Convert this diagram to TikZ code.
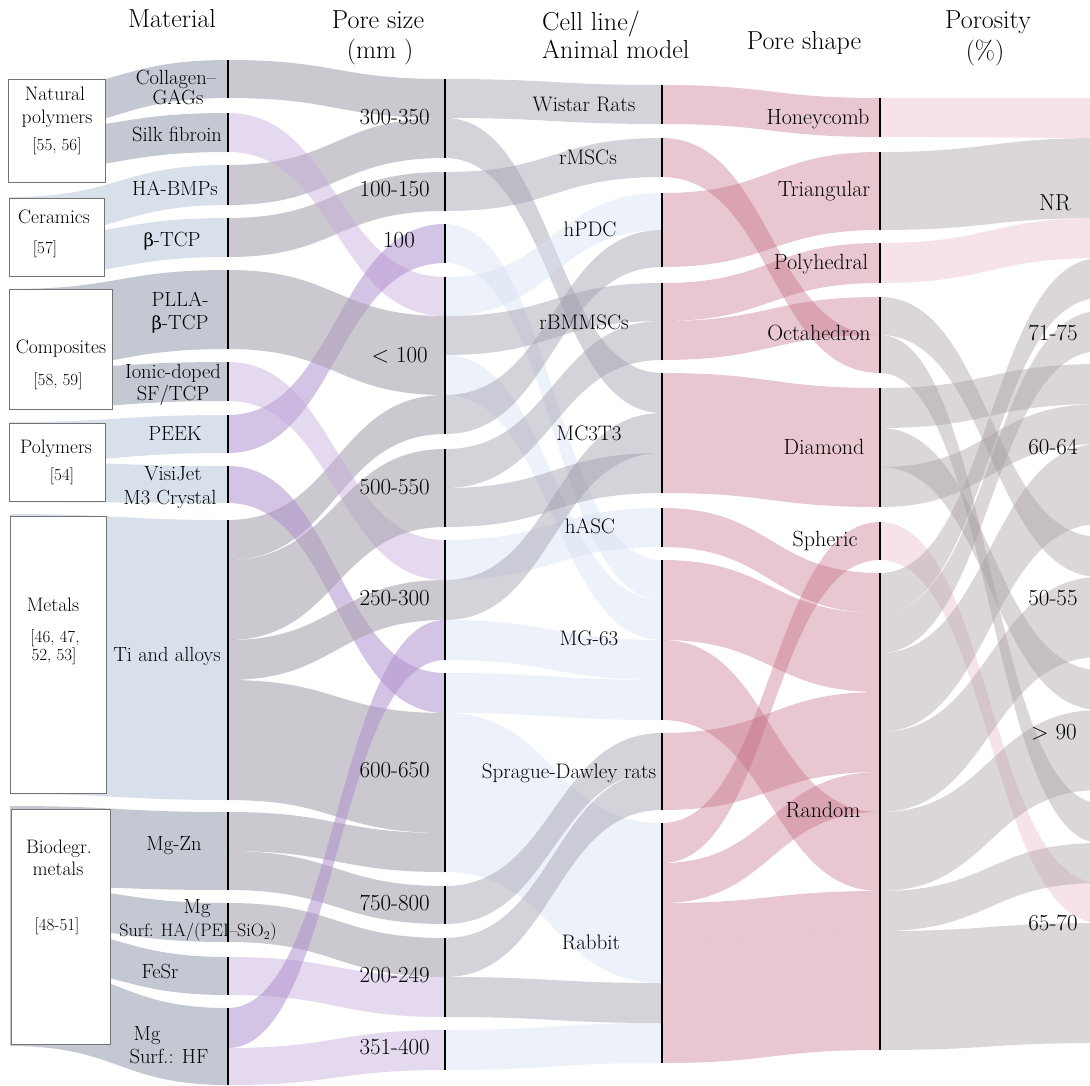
\documentclass[tikz,border=0pt]{standalone}
\usepackage{fontspec}
\newfontfamily\grk{DejaVu Serif}
\definecolor{gb}{RGB}{196,200,210}
\definecolor{lb}{RGB}{216,225,235}
\definecolor{agray}{RGB}{170,163,175}
\definecolor{apur}{RGB}{195,170,220}
\definecolor{apurm}{RGB}{175,145,205}
\definecolor{bgray}{RGB}{160,158,172}
\definecolor{bblue}{RGB}{215,225,242}
\definecolor{cred}{RGB}{190,95,120}
\definecolor{dgray}{RGB}{165,155,160}
\definecolor{dpink}{RGB}{228,175,190}
\newcommand{\ribbonx}[7]{\fill[#7] (#1,#2) .. controls ({(#1+#4)/2},#2) and ({(#1+#4)/2},#5) .. (#4,#5) -- (#4,#6) .. controls ({(#1+#4)/2},#6) and ({(#1+#4)/2},#3) .. (#1,#3) -- cycle;}
\newcommand{\bt}{{\grk\fontsize{18}{20}\selectfont β}}
\begin{document}
\begin{tikzpicture}[x=1pt,y=-1pt,
  rgb0/.style={fill=gb},
  rlb0/.style={fill=lb},
  ra/.style={fill=agray,fill opacity=0.6},
  rap/.style={fill=apur,fill opacity=0.45},
  rapm/.style={fill=apurm,fill opacity=0.55},
  rb/.style={fill=bgray,fill opacity=0.45},
  rbb/.style={fill=bblue,fill opacity=0.45},
  rc/.style={fill=cred,fill opacity=0.35},
  rd/.style={fill=dgray,fill opacity=0.4},
  rdp/.style={fill=dpink,fill opacity=0.35},
  bar/.style={line width=2.6pt,black},
  boxst/.style={draw=black!55,line width=0.8pt,fill=white,inner sep=0pt},
  hdr/.style={font=\fontsize{26}{30}\selectfont,anchor=base,inner sep=0pt},
  lab/.style={font=\fontsize{20.5}{24}\selectfont,anchor=base,yshift=-7pt,inner sep=0pt},
  clab/.style={font=\fontsize{21}{24}\selectfont,anchor=base,yshift=-7.2pt,inner sep=0pt},
  slab/.style={font=\fontsize{22}{25}\selectfont,anchor=base,yshift=-7.5pt,inner sep=0pt},
  num/.style={font=\fontsize{23}{26}\selectfont,anchor=base east,yshift=-7.4pt,inner sep=0pt},
  numc/.style={font=\fontsize{23}{26}\selectfont,anchor=base,yshift=-7.4pt,inner sep=0pt},
  blab/.style={font=\fontsize{19.5}{22}\selectfont,anchor=base,yshift=-6.7pt,inner sep=0pt},
  bref/.style={font=\fontsize{17}{20}\selectfont,anchor=base,yshift=-5.9pt,inner sep=0pt}]
\useasboundingbox (0,0) rectangle (1090,1085);
\clip (0,0) rectangle (1090,1085);
% ---------- boxes -> material
\ribbonx{10}{90.5}{130.5}{228}{60}{98}{rgb0}
\ribbonx{10}{130.5}{170.5}{228}{113}{152}{rgb0}
\ribbonx{10}{197}{237}{228}{165}{205}{rlb0}
\ribbonx{10}{237}{277}{228}{218}{257}{rlb0}
\ribbonx{10}{289}{369}{228}{270}{349}{rgb0}
\ribbonx{10}{369}{409}{228}{362}{401}{rgb0}
\ribbonx{10}{422}{462}{228}{415}{453}{rlb0}
\ribbonx{10}{462}{502}{228}{466}{503}{rlb0}
\ribbonx{10}{514}{794}{228}{520}{800}{rlb0}
\ribbonx{10}{806}{886}{228}{812}{890}{rgb0}
\ribbonx{10}{886}{926}{228}{903}{942}{rgb0}
\ribbonx{10}{926}{966}{228}{957}{995}{rgb0}
\ribbonx{10}{966}{1046}{228}{1008}{1085}{rgb0}
% ---------- material -> pore size
\ribbonx{228}{60}{98}{445}{79}{118}{ra}
\ribbonx{228}{165}{205}{445}{118}{158}{ra}
\ribbonx{228}{218}{257}{445}{172}{211}{ra}
\ribbonx{228}{113}{152}{445}{277}{316}{rap}
\ribbonx{228}{415}{453}{445}{224}{263}{rapm}
\ribbonx{228}{270}{349}{445}{316}{395}{ra}
\ribbonx{228}{520}{560}{445}{395}{434}{ra}
\ribbonx{228}{362}{401}{445}{540}{580}{rap}
\ribbonx{228}{466}{503}{445}{673}{713}{rapm}
\ribbonx{228}{560}{640}{445}{449}{527}{ra}
\ribbonx{228}{640}{680}{445}{580}{620}{ra}
\ribbonx{228}{680}{800}{445}{713}{833}{ra}
\ribbonx{228}{812}{851}{445}{833}{872}{ra}
\ribbonx{228}{851}{890}{445}{886}{924}{ra}
\ribbonx{228}{903}{942}{445}{938}{977}{ra}
\ribbonx{228}{957}{995}{445}{977}{1017}{rap}
\ribbonx{228}{1008}{1048}{445}{620}{660}{rapm}
\ribbonx{228}{1048}{1085}{445}{1030}{1070}{rap}
% ---------- pore size -> cell line
\ribbonx{445}{79}{118}{662}{85}{124}{rb}
\ribbonx{445}{118}{158}{662}{373}{413}{rb}
\ribbonx{445}{172}{211}{662}{138}{177}{rb}
\ribbonx{445}{224}{263}{662}{560}{600}{rbb}
\ribbonx{445}{277}{316}{662}{193}{230}{rbb}
\ribbonx{445}{316}{355}{662}{283}{321}{rb}
\ribbonx{445}{355}{395}{662}{600}{640}{rbb}
\ribbonx{445}{395}{434}{662}{230}{267}{rb}
\ribbonx{445}{449}{488}{662}{321}{360}{rb}
\ribbonx{445}{488}{527}{662}{453}{493}{rb}
\ribbonx{445}{540}{580}{662}{508}{547}{rbb}
\ribbonx{445}{580}{620}{662}{413}{453}{rb}
\ribbonx{445}{620}{660}{662}{640}{680}{rbb}
\ribbonx{445}{673}{713}{662}{680}{720}{rbb}
\ribbonx{445}{713}{872}{662}{823}{983}{rbb}
\ribbonx{445}{886}{924}{662}{733}{771}{rb}
\ribbonx{445}{938}{977}{662}{771}{810}{rb}
\ribbonx{445}{977}{1017}{662}{983}{1023}{rb}
\ribbonx{445}{1030}{1070}{662}{1023}{1063}{rbb}
% ---------- cell line -> pore shape
\ribbonx{662}{85}{124}{880}{98}{137}{rc}
\ribbonx{662}{138}{177}{880}{335}{373}{rc}
\ribbonx{662}{193}{267}{880}{152}{230}{rc}
\ribbonx{662}{283}{321}{880}{243}{283}{rc}
\ribbonx{662}{321}{360}{880}{297}{335}{rc}
\ribbonx{662}{373}{493}{880}{388}{507}{rc}
\ribbonx{662}{508}{547}{880}{573}{613}{rc}
\ribbonx{662}{560}{640}{880}{613}{692}{rc}
\ribbonx{662}{640}{720}{880}{812}{891}{rc}
\ribbonx{662}{733}{810}{880}{692}{772}{rc}
\ribbonx{662}{823}{863}{880}{522}{560}{rc}
\ribbonx{662}{863}{903}{880}{772}{812}{rc}
\ribbonx{662}{903}{943}{880}{891}{931}{rc}
\ribbonx{662}{943}{1063}{880}{931}{1050}{rc}
% ---------- pore shape -> porosity
\ribbonx{880}{98}{137}{1100}{98}{138}{rdp}
\ribbonx{880}{152}{230}{1100}{138}{218}{rd}
\ribbonx{880}{243}{283}{1100}{218}{258}{rdp}
\ribbonx{880}{297}{335}{1100}{537}{577}{rd}
\ribbonx{880}{335}{373}{1100}{803}{843}{rd}
\ribbonx{880}{388}{428}{1100}{364}{404}{rd}
\ribbonx{880}{428}{467}{1100}{670}{710}{rd}
\ribbonx{880}{467}{507}{1100}{404}{444}{rd}
\ribbonx{880}{522}{560}{1100}{883}{923}{rdp}
\ribbonx{880}{573}{613}{1100}{258}{298}{rd}
\ribbonx{880}{613}{653}{1100}{311}{351}{rd}
\ribbonx{880}{653}{732}{1100}{444}{524}{rd}
\ribbonx{880}{732}{812}{1100}{577}{657}{rd}
\ribbonx{880}{812}{891}{1100}{710}{790}{rd}
\ribbonx{880}{891}{931}{1100}{843}{883}{rd}
\ribbonx{880}{931}{1050}{1100}{923}{1043}{rd}
% ---------- bars
\foreach \a/\b in {60/98,113/152,165/205,218/257,270/349,362/401,415/453,466/503,520/800,812/890,903/942,957/995,1008/1085}
  \draw[bar] (228,\a) -- (228,\b);
\foreach \a/\b in {79/158,172/211,224/263,277/434,449/527,540/660,673/872,886/924,938/1017,1030/1070}
  \draw[bar] (445,\a) -- (445,\b);
\foreach \a/\b in {85/124,138/177,193/267,283/360,373/493,508/547,560/720,733/810,823/1063}
  \draw[bar] (662,\a) -- (662,\b);
\foreach \a/\b in {98/137,152/230,243/283,297/373,388/507,522/560,573/1050}
  \draw[bar] (880,\a) -- (880,\b);
% ---------- boxes
\node[boxst,minimum width=97pt,minimum height=103pt] (bnat) at (56.5,130.5) {};
\node[boxst,minimum width=95pt,minimum height=78pt] (bcer) at (56.5,237) {};
\node[boxst,minimum width=103pt,minimum height=120pt] (bcom) at (60.5,349) {};
\node[boxst,minimum width=96pt,minimum height=78pt] (bpol) at (57,462) {};
\node[boxst,minimum width=96pt,minimum height=277pt] (bmet) at (58,654.5) {};
\node[boxst,minimum width=99pt,minimum height=235pt] (bbio) at (60.5,926.5) {};
\node[blab] (t1) at (55,94) {Natural};
\node[blab] (t2) at (57,117) {polymers};
\node[bref] (t3) at (57,145) {[55, 56]};
\node[blab] (t4) at (54,217) {Ceramics};
\node[bref] (t5) at (45,248) {[57]};
\node[blab] (t6) at (61,347) {Composites};
\node[bref] (t7) at (58,380) {[58, 59]};
\node[blab] (t8) at (56,447) {Polymers};
\node[bref] (t9) at (62,475) {[54]};
\node[blab] (t10) at (53,605) {Metals};
\node[bref] (t11) at (55,637) {[46, 47,};
\node[bref] (t12) at (54,655) {52, 53]};
\node[blab] (t13) at (59,847) {Biodegr.};
\node[blab] (t14) at (58,869) {metals};
\node[bref] (t15) at (57,925) {[48-51]};
% ---------- headers
\node[hdr] (h1) at (172,27) {Material};
\node[hdr] (h2) at (378,28) {Pore size};
\node[hdr] (h3) at (380,58) {(mm )};
\node[hdr,anchor=base west] (h4) at (542,30) {Cell line/};
\node[hdr,anchor=base west] (h5) at (542,58) {Animal model};
\node[hdr] (h6) at (804,49) {Pore shape};
\node[hdr] (h7) at (988,28) {Porosity};
\node[hdr] (h8) at (985,59) {(\%)};
% ---------- material labels
\node[lab] (m1) at (176,77) {Collagen–};
\node[lab] (m1b) at (178,97) {GAGs};
\node[lab] (m2) at (177,134) {Silk fibroin};
\node[lab] (m3) at (175,188) {HA-BMPs};
\node[lab] (m4) at (172,239) {\bt-TCP};
\node[lab] (m5) at (180,299) {PLLA-};
\node[lab] (m5b) at (180,322) {\bt-TCP};
\node[lab] (m6) at (173,371) {Ionic-doped};
\node[lab] (m6b) at (173,393) {SF/TCP};
\node[lab] (m7) at (175,433) {PEEK};
\node[lab] (m8) at (173,473) {VisiJet};
\node[lab] (m8b) at (170,497) {M3 Crystal};
\node[lab] (m9) at (167,654) {Ti and alloys};
\node[lab] (m10) at (174,843) {Mg-Zn};
\node[lab] (m11) at (197,906) {Mg};
\node[lab,font=\fontsize{18}{21}\selectfont,yshift=0.6pt] (m11b) at (198,930) {Surf: HA/(PEI–SiO$_2$)};
\node[lab] (m12) at (160,971) {FeSr};
\node[lab] (m13) at (147,1033) {Mg};
\node[lab] (m13b) at (169,1056) {Surf.: HF};
% ---------- pore size labels
\node[num] (p1) at (430,117) {300-350};
\node[num] (p2) at (430,189) {100-150};
\node[numc] (p3) at (399,240) {100};
\node[num] (p4) at (428,355) {< 100};
\node[num] (p5) at (430,487) {500-550};
\node[num] (p6) at (430,598) {250-300};
\node[num] (p7) at (430,770) {600-650};
\node[num] (p8) at (430,903) {750-800};
\node[num] (p9) at (430,975) {200-249};
\node[num] (p10) at (430,1047) {351-400};
% ---------- cell line labels
\node[clab] (c1) at (584,104) {Wistar Rats};
\node[clab] (c2) at (588,157) {rMSCs};
\node[clab] (c3) at (590,229) {hPDC};
\node[clab] (c4) at (584,322) {rBMMSCs};
\node[clab] (c5) at (589,433) {MC3T3};
\node[clab] (c6) at (590,526) {hASC};
\node[clab] (c7) at (589,638) {MG-63};
\node[clab] (c8) at (569,771) {Sprague-Dawley rats};
\node[clab] (c9) at (591,942) {Rabbit};
% ---------- pore shape labels
\node[slab] (s1) at (818,117) {Honeycomb};
\node[slab] (s2) at (824,189) {Triangular};
\node[slab] (s3) at (821,262) {Polyhedral};
\node[slab] (s4) at (819,333) {Octahedron};
\node[slab] (s5) at (824,447) {Diamond};
\node[slab] (s6) at (825,539) {Spheric};
\node[slab] (s7) at (823,810) {Random};
% ---------- porosity labels
\node[numc] (q1) at (1055,203) {NR};
\node[numc] (q2) at (1053,333) {71-75};
\node[numc] (q3) at (1053,447) {60-64};
\node[numc] (q4) at (1053,598) {50-55};
\node[numc] (q5) at (1054,732) {> 90};
\node[numc] (q6) at (1053,923) {65-70};
\end{tikzpicture}
\end{document}
